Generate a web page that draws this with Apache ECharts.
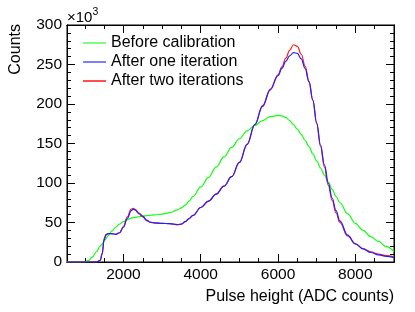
<!DOCTYPE html>
<html>
<head>
<meta charset="utf-8">
<script src="https://cdn.jsdelivr.net/npm/echarts@6/dist/echarts.min.js"></script>
<style>html,body{margin:0;padding:0;background:#fff}#c{width:415px;height:312px}</style>
</head>
<body>
<div id="c"></div>
<script>
// Pulse height (ADC counts)
const xs = [540, 800, 1000, 1100, 1200, 1300, 1400, 1450, 1500, 1550,
  1600, 1700, 1800, 1900, 2000, 2100, 2200, 2260, 2300, 2400,
  2500, 2600, 2700, 2800, 3000, 3200, 3400, 3500, 3600, 3700,
  3800, 4000, 4200, 4400, 4600, 4800, 5000, 5200, 5400, 5600,
  5800, 6000, 6100, 6200, 6300, 6400, 6500, 6600, 6700, 6800,
  6900, 7000, 7100, 7200, 7300, 7400, 7500, 7600, 7800, 8000,
  8200, 8400, 8600, 8800, 9000];
// Counts (x10^3)
const beforeCalib = [0, 0, 0.3, 2, 6.5, 13, 20, 23, 26, 29.5,
  33, 39, 44, 48, 51, 53.5, 55.5, 56.2, 56.5, 57.3,
  58, 58.7, 59.2, 59.6, 60.7, 62.5, 66, 68.5, 72, 77,
  83, 95, 107, 120, 133, 145, 156, 166, 173, 179,
  184, 185.5, 185, 183, 179, 174, 168, 161.5, 154, 146,
  137, 128, 119, 110, 101, 92, 83, 75, 61, 49,
  40, 32, 26, 19.5, 13];
const afterOne = [0, 0, 0, 0, 0, 0, 2, 10, 28, 34,
  36, 36, 35, 37, 44, 55, 65, 67, 66, 62,
  58, 53, 50.5, 49.5, 49, 48.5, 47.5, 48, 51, 55,
  59, 69, 77, 86, 96, 108, 126, 149, 174, 197,
  218, 236, 245, 254, 261, 265, 264, 257, 245, 228,
  205, 176, 148, 123, 100, 81, 65, 52, 34, 23,
  16.5, 12, 9, 7, 5.5];
const afterTwo = [0, 0, 0, 0, 0, 0, 2, 11, 30, 35,
  36, 36, 35, 37, 45, 57, 67, 68, 66.5, 61,
  57, 52.5, 50, 49.5, 49, 48.5, 47, 48, 51, 55,
  59, 69, 77, 86, 96, 108, 126, 149, 174, 198,
  219, 237, 247, 258, 268, 275, 273, 263, 248, 229,
  205, 175, 146, 120, 97, 78, 62, 50, 33, 23,
  17, 13, 10, 8, 6.5];
const xMajorTicks = [2000, 4000, 6000, 8000];
const xMinorTicks = [1000, 1500, 2500, 3000, 3500, 4500, 5000, 5500, 6500, 7000, 7500, 8500];
const yMajorTicks = [0, 50, 100, 150, 200, 250, 300];
const yMinorTicks = [];
for (let v = 10; v < 300; v += 10) if (v % 50 !== 0) yMinorTicks.push(v);

const FONT = 'Liberation Sans, Arial, Helvetica, sans-serif';
const X_MIN = 540, X_MAX = 9000;
const black = {color: '#000', width: 1};
const plain = v => String(v);

function xAx(pos, ticks, len, labels) {
  return {
    type: 'value', min: X_MIN, max: X_MAX, position: pos,
    axisLine: {show: true, onZero: false, lineStyle: black},
    axisTick: {show: true, inside: true, length: len, customValues: ticks, lineStyle: black},
    axisLabel: labels ? {show: true, customValues: labels, formatter: plain, fontSize: 15.5, color: '#000', fontFamily: FONT, margin: 5} : {show: false},
    splitLine: {show: false}
  };
}
function yAx(pos, ticks, len, labels) {
  return {
    type: 'value', min: 0, max: 300, position: pos,
    axisLine: {show: true, onZero: false, lineStyle: black},
    axisTick: {show: true, inside: true, length: len, customValues: ticks, lineStyle: black},
    axisLabel: labels ? {show: true, customValues: labels, formatter: plain, fontSize: 15.5, color: '#000', fontFamily: FONT, margin: 5} : {show: false},
    splitLine: {show: false}
  };
}

const chart = echarts.init(document.getElementById('c'), null, {renderer: 'canvas'});
chart.setOption({
  animation: false,
  backgroundColor: '#fff',
  grid: {left: 67, right: 21, top: 25, bottom: 50, show: true, borderColor: '#000', borderWidth: 1, backgroundColor: 'transparent'},
  xAxis: [
    xAx('bottom', xMinorTicks, 4, xMajorTicks),
    xAx('bottom', xMajorTicks, 8, null),
    xAx('top', xMinorTicks, 4, null),
    xAx('top', xMajorTicks, 8, null)
  ],
  yAxis: [
    yAx('left', yMajorTicks, 8, yMajorTicks),
    yAx('left', yMinorTicks, 4, null),
    yAx('right', yMajorTicks, 8, null),
    yAx('right', yMinorTicks, 4, null)
  ],
  legend: {
    orient: 'vertical', left: 83, top: 35, padding: 0, itemWidth: 23, itemHeight: 2, itemGap: 3,
    icon: 'rect',
    textStyle: {fontSize: 16, color: '#000', fontFamily: FONT},
    data: [
      {name: 'Before calibration', itemStyle: {color: '#7dff7d'}},
      {name: 'After one iteration', itemStyle: {color: '#8080ff'}},
      {name: 'After two iterations', itemStyle: {color: '#ff5050'}}
    ]
  },
  series: [
    {name: 'Before calibration', type: 'line', xAxisIndex: 0, yAxisIndex: 0, symbol: 'none', smooth: 0.4, smoothMonotone: 'x',
      lineStyle: {color: '#11ff11', width: 1.2}, itemStyle: {color: '#11ff11'},
      data: xs.map((x, i) => [x, beforeCalib[i]])},
    {name: 'After two iterations', type: 'line', xAxisIndex: 0, yAxisIndex: 0, symbol: 'none', smooth: 0.4, smoothMonotone: 'x',
      lineStyle: {color: '#ff2020', width: 1.2}, itemStyle: {color: '#ff2020'},
      data: xs.map((x, i) => [x, afterTwo[i]])},
    {name: 'After one iteration', type: 'line', xAxisIndex: 0, yAxisIndex: 0, symbol: 'none', smooth: 0.4, smoothMonotone: 'x',
      lineStyle: {color: '#2020ff', width: 1.2}, itemStyle: {color: '#2020ff'},
      data: xs.map((x, i) => [x, afterOne[i]])}
  ],
  graphic: [
    {type: 'text', x: 16, y: 24, rotation: Math.PI / 2,
      style: {text: 'Counts', fontSize: 16, fontFamily: FONT, fill: '#000', textAlign: 'right', textVerticalAlign: 'middle'}},
    {type: 'text', x: 394, y: 297,
      style: {text: 'Pulse height (ADC counts)', fontSize: 16, fontFamily: FONT, fill: '#000', textAlign: 'right', textVerticalAlign: 'middle'}},
    {type: 'text', x: 67, y: 18,
      style: {text: '\u00d710', fontSize: 15, fontFamily: FONT, fill: '#000', textAlign: 'left', textVerticalAlign: 'middle'}},
    {type: 'text', x: 92.5, y: 12,
      style: {text: '3', fontSize: 10.5, fontFamily: FONT, fill: '#000', textAlign: 'left', textVerticalAlign: 'middle'}}
  ]
});
</script>
</body>
</html>
